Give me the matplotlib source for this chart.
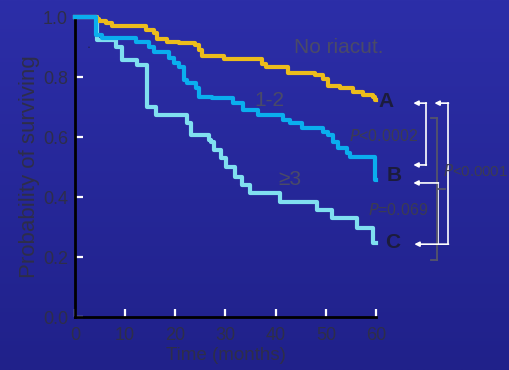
import numpy as np
import matplotlib
matplotlib.use("Agg")
import matplotlib.pyplot as plt

plt.rcParams['font.family'] = ['Liberation Sans', 'DejaVu Sans']

# survival curves (months, probability)
t_none = [0, 4.4, 4.8, 6.2, 7.4, 14.2, 15.8, 16.4, 18.4, 20.8, 24.0, 24.8, 25.4,
          29.8, 37.2, 38.0, 42.4, 47.8, 49.4, 50.4, 52.8, 55.4, 57.4, 59.4, 59.8, 60]
s_none = [1.0, 0.993, 0.987, 0.98, 0.97, 0.957, 0.947, 0.927, 0.917, 0.913, 0.907, 0.89, 0.87,
          0.86, 0.843, 0.833, 0.813, 0.807, 0.793, 0.77, 0.763, 0.75, 0.74, 0.733, 0.723, 0.723]

t_12 = [0, 4.2, 5.4, 12.2, 14.8, 15.8, 18.8, 19.8, 20.8, 21.8, 22.4, 24.2, 24.8, 27.4,
        31.4, 33.4, 36.4, 41.4, 42.8, 45.2, 49.4, 50.4, 51.4, 52.4, 54.2, 54.8, 59.8, 60]
s_12 = [1.0, 0.94, 0.93, 0.917, 0.9, 0.883, 0.863, 0.847, 0.833, 0.79, 0.78, 0.763, 0.733, 0.73,
        0.713, 0.69, 0.673, 0.657, 0.647, 0.63, 0.617, 0.607, 0.583, 0.563, 0.547, 0.533, 0.457, 0.457]

t_3 = [0, 4.4, 8.2, 9.4, 12.4, 14.4, 16.2, 22.4, 23.2, 26.8, 27.2, 27.8, 29.2, 30.2,
       31.8, 33.2, 34.8, 40.8, 48.2, 51.2, 56.2, 59.4, 60]
s_3 = [1.0, 0.923, 0.9, 0.857, 0.84, 0.7, 0.673, 0.647, 0.607, 0.59, 0.583, 0.557, 0.53, 0.5,
       0.467, 0.44, 0.413, 0.383, 0.357, 0.33, 0.297, 0.247, 0.247]

xticks = [0, 10, 20, 30, 40, 50, 60]
yticks = [0.0, 0.2, 0.4, 0.6, 0.8, 1.0]

fig = plt.figure(figsize=(5.09, 3.70), dpi=100)

# blue gradient background
bg = fig.add_axes([0, 0, 1, 1], zorder=-10)
grad = np.linspace(0, 1, 256).reshape(-1, 1)
top = np.array([0x2c, 0x2e, 0xa8]) / 255
bot = np.array([0x20, 0x21, 0x8a]) / 255
img = top[None, None, :] * (1 - grad[:, :, None]) + bot[None, None, :] * grad[:, :, None]
bg.imshow(img, aspect='auto', extent=[0, 1, 0, 1])
bg.axis('off')

ax = fig.add_axes([0.147, 0.143, 0.592, 0.811])
ax.patch.set_alpha(0)

ax.step(t_none, s_none, where='post', color='#ecbc1c', lw=3, clip_on=False, zorder=3)
ax.step(t_12, s_12, where='post', color='#0aaeee', lw=3, clip_on=False, zorder=3)
ax.step(t_3, s_3, where='post', color='#80dff0', lw=3, clip_on=False, zorder=2)

ax.set_xlim(0, 60)
ax.set_ylim(0, 1.0)
ax.set_xticks(xticks)
ax.set_yticks(yticks)
ax.set_yticklabels(['%.1f' % v for v in yticks])
ax.tick_params(direction='in', color='white', width=1.6, length=6,
               labelcolor='#2e2e4a', labelsize=13)
ax.tick_params(axis='x', pad=7)
ax.tick_params(axis='y', pad=5)

for side in ['top', 'right']:
    ax.spines[side].set_visible(False)
for side in ['left', 'bottom']:
    ax.spines[side].set_color('black')
    ax.spines[side].set_linewidth(2)

ax.set_xlabel('Time (months)', fontsize=13.5, color='#2e2e4a', labelpad=2)
ax.set_ylabel('Probability of surviving', fontsize=16, color='#2e2e4a', labelpad=2)

# curve labels
gray = '#4a4a68'
ax.text(52.6, 0.897, 'No riacut.', fontsize=15, color=gray, ha='center', va='center')
ax.text(38.8, 0.723, '1-2', fontsize=15, color=gray, ha='center', va='center')
ax.text(42.8, 0.457, '≥3', fontsize=15, color=gray, ha='center', va='center')
ax.text(2.8, 0.897, '•', fontsize=4, color='#222240', ha='center', va='center')

ax.text(62, 0.72, 'A', fontsize=15, fontweight='bold', color='#1c1c3c', ha='center', va='center', clip_on=False)
ax.text(63.6, 0.473, 'B', fontsize=15, fontweight='bold', color='#1c1c3c', ha='center', va='center', clip_on=False)
ax.text(63.2, 0.247, 'C', fontsize=15, fontweight='bold', color='#1c1c3c', ha='center', va='center', clip_on=False)

pgray = '#3c3c52'
ax.text(61.4, 0.603, r'$\it{P}$<0.0002', fontsize=11.5, color=pgray, ha='center', va='center', clip_on=False)
ax.text(73.4, 0.487, r'$\it{P}$<0.0001', fontsize=10.8, color=pgray, ha='left', va='center', clip_on=False)
ax.text(64.4, 0.357, r'$\it{P}$=0.069', fontsize=11.5, color=pgray, ha='center', va='center', clip_on=False)

# brackets with arrows
aprops = dict(arrowstyle='-|>', color='white', lw=1.2, mutation_scale=7, shrinkA=0, shrinkB=0)
def arrow(x0, x1, y):
    ax.annotate('', xy=(x1, y), xytext=(x0, y), arrowprops=aprops, annotation_clip=False)

def vline(x, y0, y1, color='white', lw=1.2):
    ax.plot([x, x], [y0, y1], color=color, lw=lw, clip_on=False)

# A-B
arrow(70.0, 67.4, 0.713)
arrow(70.0, 67.4, 0.507)
vline(70.0, 0.713, 0.507)
# A-C
arrow(74.4, 71.6, 0.713)
vline(74.4, 0.713, 0.243)
arrow(74.4, 67.6, 0.243)
# B-C
arrow(72.4, 67.4, 0.447)
vline(72.4, 0.447, 0.243)
# gray bracket
g2 = '#55556a'
vline(72.2, 0.663, 0.19, color=g2, lw=1.3)
ax.plot([71.0, 72.2], [0.663, 0.663], color=g2, lw=1.3, clip_on=False)
ax.plot([71.0, 72.2], [0.19, 0.19], color=g2, lw=1.3, clip_on=False)
ax.plot([72.2, 73.8], [0.427, 0.427], color=g2, lw=1.3, clip_on=False)

fig.savefig('out.png', dpi=100)
